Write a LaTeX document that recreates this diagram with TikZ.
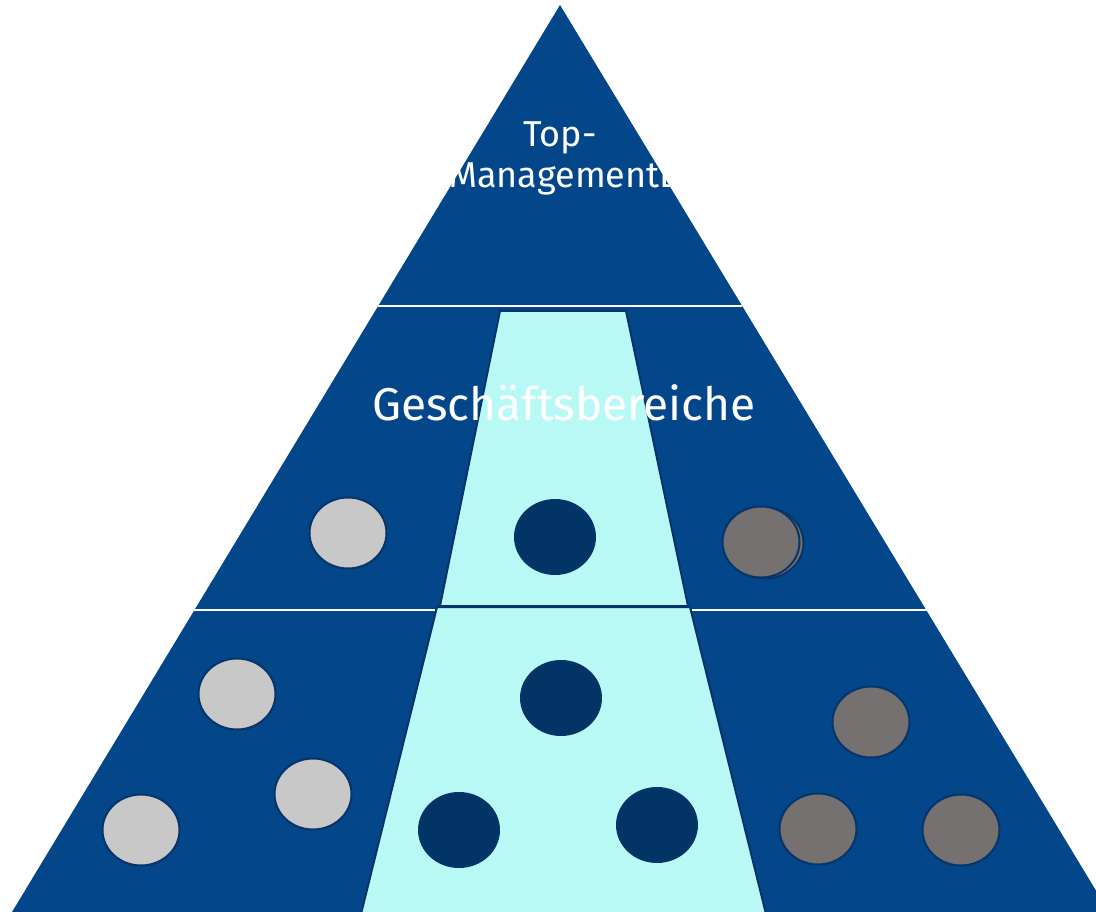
\documentclass[tikz,border=0pt]{standalone}
\usepackage{fontspec}
\setmainfont{Fira Sans}
\usetikzlibrary{positioning,shapes.geometric}
\definecolor{pyrblue}{HTML}{03468A}
\definecolor{lanecyan}{HTML}{B8F9F6}
\definecolor{edgenavy}{HTML}{073469}
\definecolor{dotnavy}{HTML}{023566}
\definecolor{dotlight}{HTML}{C8C8C8}
\definecolor{dotdark}{HTML}{767171}
\begin{document}
\begin{tikzpicture}[x=1pt, y=-1pt,
    lane/.style={fill=lanecyan, draw=edgenavy, line width=2pt},
    divider/.style={draw=white, line width=2.5pt},
    unit/.style={ellipse, draw=edgenavy, line width=2pt, minimum width=77pt,
        minimum height=71pt, inner sep=0pt},
    light/.style={unit, fill=dotlight},
    core/.style={unit, fill=dotnavy, minimum width=80pt, minimum height=74pt},
    dark/.style={unit, fill=dotdark},
    label/.style={text=white, anchor=base, inner sep=0pt}
]
\useasboundingbox (0,0) rectangle (1096,912);
\begin{scope}
\clip (0,0) rectangle (1096,912);
% pyramid
\coordinate (apex) at (560,5);
\coordinate (baseL) at (9,917);
\coordinate (baseR) at (1112,917);
\fill[pyrblue] (apex) -- (baseL) -- (baseR) -- cycle;

% middle lane
\draw[lane] (500,311) -- (626,311) -- (688,606) -- (440,606) -- cycle;
\draw[lane] (437,607) -- (690,607) -- (766,914) -- (361,914) -- cycle;

% level lines
\coordinate (topL) at (378,306);
\coordinate (topR) at (742,306);
\draw[divider] (topL) -- (topR);
\coordinate (midL) at (194,610);
\coordinate (midLi) at (435,610);
\coordinate (midRi) at (692,610);
\coordinate (midR) at (927,610);
\draw[divider] (midL) -- (midLi);
\draw[divider] (midRi) -- (midR);

% texts
\node[label, font=\fontsize{36}{40}\selectfont] (top1) at (560,147) {Top-};
\node[label, font=\fontsize{36}{40}\selectfont] (top2) at (566,188) {ManagementD};
\node[label, font=\fontsize{46}{52}\selectfont] (gb) at (564,420) {Geschäftsbereiche};

% units, upper level
\node[light] (u1) at (348,533) {};
\node[core] (u2) at (555,537) {};
\node[dark] (u3b) at (765,543) {};
\node[dark] (u3) at (761,542) {};

% units, lower level
\node[light] (l1) at (237,694) {};
\node[light] (l2) at (313,794) {};
\node[light] (l3) at (141,830) {};
\node[core] (c1) at (561,698) {};
\node[core] (c2) at (459,830) {};
\node[core] (c3) at (657,825) {};
\node[dark] (d1) at (871,722) {};
\node[dark] (d2) at (818,829) {};
\node[dark] (d3) at (961,830) {};
\end{scope}
\end{tikzpicture}
\end{document}
